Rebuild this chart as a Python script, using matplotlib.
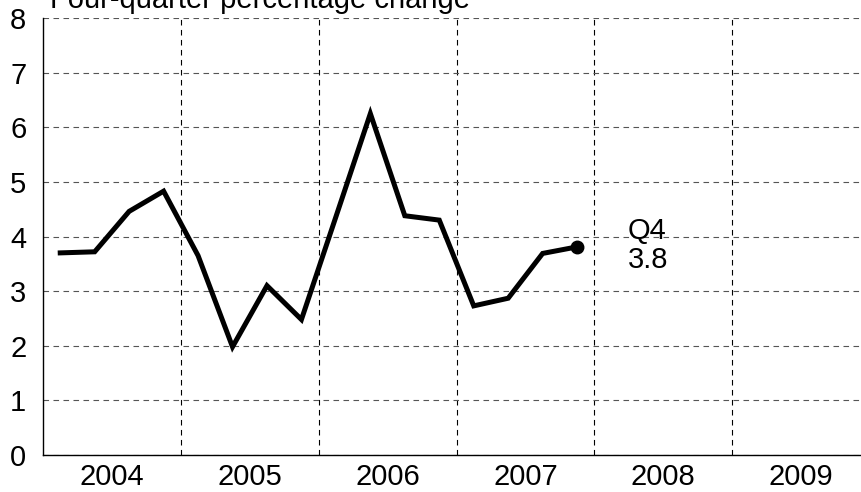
import numpy as np
import matplotlib
matplotlib.use("Agg")
import matplotlib.pyplot as plt
from matplotlib.ticker import FixedLocator

plt.rcParams['font.family'] = ['Liberation Sans', 'DejaVu Sans']

# Four-quarter percentage change, 2004Q1 .. 2007Q4
years = [2004, 2005, 2006, 2007]
values = [3.70, 3.72, 4.46, 4.83,
          3.65, 1.98, 3.10, 2.48,
          4.36, 6.25, 4.38, 4.30,
          2.73, 2.87, 3.69, 3.81]
year_labels = ['2004', '2005', '2006', '2007', '2008', '2009']
last_label = 'Q4\n3.8'
title = 'Four-quarter percentage change'

# quarter midpoints inside each year slot
x = [y - 0.5 + (q + 0.5) / 4 for y in years for q in range(4)]

fs = 21

fig = plt.figure(figsize=(8.61, 4.92), dpi=100)
ax = fig.add_axes([43 / 861, 1 - 455 / 492, 827 / 861, 437 / 492])

ax.plot(x, values, color='black', lw=3.6, solid_joinstyle='miter', zorder=3)
ax.plot(x[-1], values[-1], 'o', color='black', ms=9, zorder=4)
ax.text(x[-1] + 0.37, 3.84, last_label, fontsize=fs,
        ha='left', va='center', linespacing=1.05)

ax.set_xlim(2003.5, 2009.5)
ax.set_ylim(0, 8)
ax.set_yticks(range(0, 9))
ax.set_xticks(range(2004, 2010))
ax.set_xticklabels(year_labels)
ax.xaxis.set_minor_locator(FixedLocator(np.arange(2004.5, 2009.5, 1)))
ax.tick_params(axis='both', which='both', length=0, labelsize=fs)
ax.tick_params(axis='y', pad=12)
ax.tick_params(axis='x', pad=6)

ax.grid(False)
ax.yaxis.grid(True, which='major', color='#555555', ls=(0, (5, 4)), lw=0.8)
ax.xaxis.grid(True, which='minor', color='black', ls=(0, (5, 4)), lw=0.8)

for s in ['top', 'right']:
    ax.spines[s].set_visible(False)
ax.spines['left'].set_linewidth(1.0)
ax.spines['bottom'].set_linewidth(1.0)

# title sits partly above the top edge, as in the source image
fig.text(50 / 861, 1 - 8 / 492, title, fontsize=fs, ha='left', va='baseline')

fig.savefig('out.png', dpi=100)
